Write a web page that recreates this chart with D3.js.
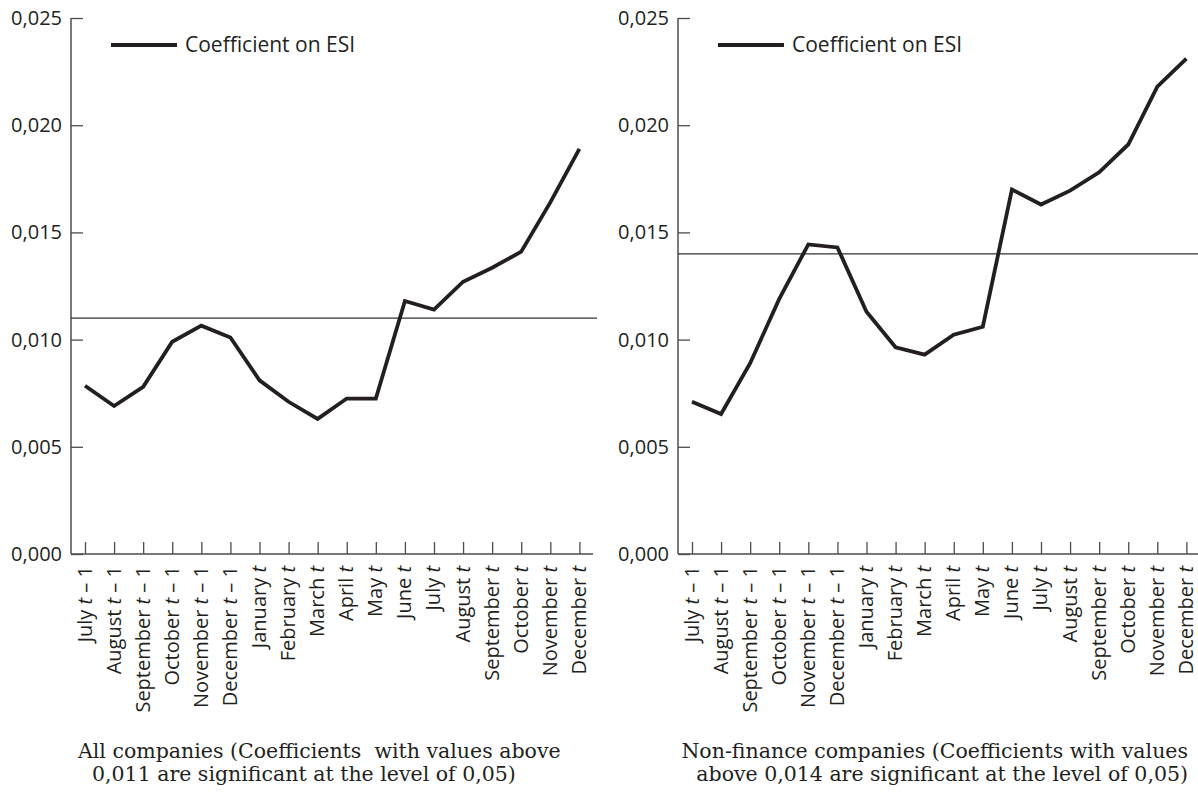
<!DOCTYPE html>
<html>
<head>
<meta charset="utf-8">
<script src="https://cdn.jsdelivr.net/npm/d3@7"></script>
<style>
  body { margin: 0; background: #fff; }
  svg { display: block; }
</style>
</head>
<body>
<div id="chart"></div>
<script>
// categories (the " t" part is drawn in italics)
const months = ["July t – 1", "August t – 1", "September  t – 1", "October t – 1", "November t – 1",
    "December t – 1", "January t", "February t", "March t", "April t", "May t", "June t",
    "July t", "August t", "September t", "October t", "November t", "December t"];

// coefficient on ESI
const allCompanies = [0.00785, 0.0069, 0.0078, 0.0099, 0.01065, 0.0101, 0.0081, 0.0071, 0.0063,
    0.00725, 0.00725, 0.0118, 0.0114, 0.0127, 0.01335, 0.0141, 0.0164, 0.0189];
const nonFinance = [0.0071, 0.00653, 0.0089, 0.0119, 0.01444, 0.0143, 0.0113, 0.00964, 0.0093,
    0.01023, 0.0106, 0.0170, 0.0163, 0.01695, 0.0178, 0.0191, 0.0218, 0.0231];

// significance thresholds
const thresholdAll = 0.011;
const thresholdNonFin = 0.014;

const yTicks = [0, 0.005, 0.010, 0.015, 0.020, 0.025];
const legendLabel = "Coefficient on ESI";

const captionAll = ["All companies (Coefficients\u00a0 with values above",
    "0,011 are significant at the level of 0,05)"];
const captionNonFin = ["Non-finance companies (Coefficients with values",
    "above 0,014 are significant at the level of 0,05)"];

const ink = "#231f20";
const axisColor = "#4d4d4d";
const sans = "'Open Sans', sans-serif";

const svg = d3.select("#chart").append("svg")
    .attr("width", 1198)
    .attr("height", 794);

const fmt = d => d3.format(".3f")(d).replace(".", ",");

function drawPanel(left, values, threshold, caption, capX, capAnchor) {
    const margin = {top: 18, left: left};
    const width = 522, height = 536;

    const g = svg.append("g")
        .attr("transform", `translate(${margin.left},${margin.top})`);

    const x = d3.scalePoint()
        .domain(months)
        .range([14, 508.4]);

    const y = d3.scaleLinear()
        .domain([0, 0.025])
        .range([height, 0]);

    // y axis, ticks pointing inward
    const yAxis = g.append("g")
        .call(d3.axisLeft(y).tickValues(yTicks).tickFormat(fmt)
            .tickSizeInner(-12).tickSizeOuter(0).tickPadding(9));
    yAxis.select(".domain").remove();
    yAxis.selectAll(".tick line").attr("stroke", axisColor).attr("stroke-width", 1.3);
    yAxis.selectAll(".tick text")
        .attr("fill", ink)
        .style("font-family", sans)
        .style("font-size", "20px");

    // x axis
    const xAxis = g.append("g")
        .attr("transform", `translate(0,${height})`)
        .call(d3.axisBottom(x).tickSizeInner(-12).tickSizeOuter(0));
    xAxis.select(".domain").remove();
    xAxis.selectAll(".tick line").attr("stroke", axisColor).attr("stroke-width", 1.3);
    xAxis.selectAll(".tick text").each(function(d) {
        const t = d3.select(this).text(null);
        const i = d.indexOf(" t");
        t.append("tspan").text(d.slice(0, i + 1));
        t.append("tspan").style("font-style", "italic").text("t");
        t.append("tspan").text(d.slice(i + 2));
    })
        .attr("transform", "rotate(-90)")
        .attr("text-anchor", "end")
        .attr("x", -12)
        .attr("y", 0)
        .attr("dy", "0.3em")
        .attr("fill", ink)
        .style("font-family", sans)
        .style("font-size", "20px");

    // axis lines
    g.append("line")
        .attr("x1", 0).attr("x2", 0)
        .attr("y1", 0).attr("y2", height)
        .attr("stroke", axisColor).attr("stroke-width", 1.5);
    g.append("line")
        .attr("x1", 0).attr("x2", width)
        .attr("y1", height).attr("y2", height)
        .attr("stroke", axisColor).attr("stroke-width", 1.5);

    // significance threshold
    g.append("line")
        .attr("x1", 0).attr("x2", width + 4)
        .attr("y1", y(threshold)).attr("y2", y(threshold))
        .attr("stroke", "#333").attr("stroke-width", 1.2);

    // coefficient line
    const line = d3.line()
        .x((d, i) => x(months[i]))
        .y(d => y(d));
    g.append("path")
        .datum(values)
        .attr("d", line)
        .attr("fill", "none")
        .attr("stroke", ink)
        .attr("stroke-width", 3.8)
        .attr("stroke-linejoin", "miter");

    // legend
    g.append("line")
        .attr("x1", 40).attr("x2", 106)
        .attr("y1", 27).attr("y2", 27)
        .attr("stroke", ink).attr("stroke-width", 3.8);
    g.append("text")
        .attr("x", 114).attr("y", 27)
        .attr("dy", "0.35em")
        .attr("fill", ink)
        .style("font-family", sans)
        .style("font-size", "21px")
        .text(legendLabel);

    // caption under the panel
    svg.selectAll(null)
        .data(caption)
        .enter()
        .append("text")
        .attr("x", (d, i) => capX[i])
        .attr("y", (d, i) => 758 + i * 23)
        .attr("text-anchor", capAnchor)
        .attr("fill", ink)
        .style("font-family", "'DejaVu Serif', serif")
        .style("font-size", "20.5px")
        .text(d => d);
}

drawPanel(71, allCompanies, thresholdAll, captionAll, [78, 92], "start");
drawPanel(678, nonFinance, thresholdNonFin, captionNonFin, [1188, 1188], "end");
</script>
</body>
</html>
